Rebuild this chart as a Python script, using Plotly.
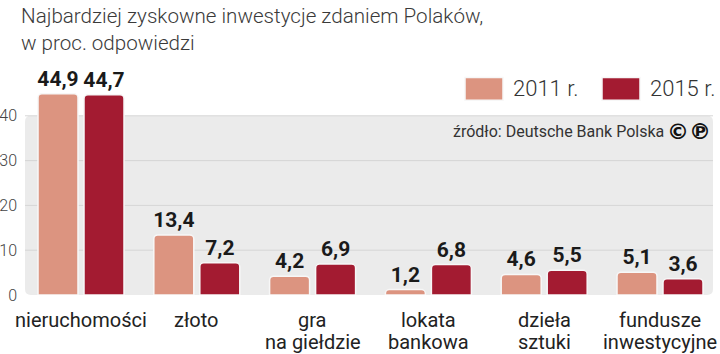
import plotly.graph_objects as go

categories = ["nieruchomości", "złoto", "gra<br>na giełdzie", "lokata<br>bankowa", "dzieła<br>sztuki", "fundusze<br>inwestycyjne"]
series_names = ["2011 r.", "2015 r."]
values_2011 = [44.9, 13.4, 4.2, 1.2, 4.6, 5.1]
values_2015 = [44.7, 7.2, 6.9, 6.8, 5.5, 3.6]
y_ticks = [0, 10, 20, 30, 40]
title_text = "Najbardziej zyskowne inwestycje zdaniem Polaków,<br>w proc. odpowiedzi"
source_text = "źródło: Deutsche Bank Polska"

colors = ["#dc9480", "#a31b31"]
W, H = 720, 354
ml, mr, mt, mb = 25, 7, 70.5, 58.5
pw = W - ml - mr
ph = H - mt - mb

def px(xp):
    return (xp - ml) / pw

def py(yp):
    return (H - mb - yp) / ph

label_font = dict(family="Roboto", size=21, color="#1a1a1a", weight="bold")

def fmt(v):
    return f"{v:.1f}".replace(".", ",")

fig = go.Figure()
for name, vals, col in zip(series_names, [values_2011, values_2015], colors):
    fig.add_trace(go.Bar(
        x=list(range(len(categories))), y=vals, name=name,
        marker=dict(color=col, line=dict(color="#f7f7f7", width=1.5), cornerradius=4),
        text=[fmt(v) for v in vals], textposition="outside", constraintext="none",
        textfont=label_font, cliponaxis=False, showlegend=False,
    ))

ymax = 50.0
x0, x1 = 0.0, 1.0
y0, y1 = 0.0, 40 / ymax
rx = 6 / pw
ry = 6 / ph
path = (f"M {x0+rx},{y0} L {x1-rx},{y0} Q {x1},{y0} {x1},{y0+ry} L {x1},{y1-ry} Q {x1},{y1} {x1-rx},{y1} "
        f"L {x0+rx},{y1} Q {x0},{y1} {x0},{y1-ry} L {x0},{y0+ry} Q {x0},{y0} {x0+rx},{y0} Z")
shapes = [dict(type="path", path=path, xref="paper", yref="paper", fillcolor="#ebebeb",
               line=dict(width=0), layer="below")]
for t in y_ticks[1:]:
    shapes.append(dict(type="line", xref="paper", yref="y", x0=0, x1=1, y0=t, y1=t,
                       line=dict(color="#d6d6d6", width=1), layer="below"))

annotations = [
    dict(text=title_text, x=px(19), y=py(1), xref="paper", yref="paper", xanchor="left", yanchor="top",
         showarrow=False, align="left", font=dict(family="Roboto", size=20.6, color="#3a3a3a", weight=300)),
]

# category labels, one annotation per text line (controlled line spacing)
for i, cat in enumerate(categories):
    for j, line in enumerate(cat.split("<br>")):
        annotations.append(dict(text=line, x=i, y=0, xref="x", yref="y",
                                xanchor="center", yanchor="middle", showarrow=False,
                                yshift=-(320 + 22 * j - (H - mb)),
                                font=dict(family="Roboto", size=20, color="#222222")))

leg_x = [465, 602]
for i, (name, col) in enumerate(zip(series_names, colors)):
    bx = leg_x[i]
    shapes.append(dict(type="rect", xref="paper", yref="paper",
                       x0=px(bx), x1=px(bx + 38), y0=py(100), y1=py(77),
                       fillcolor=col, line=dict(color="#f7f7f7", width=1.5)))
    annotations.append(dict(text=name, xref="paper", yref="paper",
                            x=px(bx + 46), y=py(88.5),
                            xanchor="left", yanchor="middle", showarrow=False,
                            font=dict(family="Roboto", size=22, color="#333333", weight=300)))

annotations.append(dict(text=source_text, xref="paper", yref="paper",
                        x=px(666), y=py(131), xanchor="right", yanchor="middle",
                        showarrow=False, font=dict(family="Roboto", size=16, color="#333333")))
annotations.append(dict(text="©℗", xref="paper", yref="paper",
                        x=px(713), y=py(131), xanchor="right", yanchor="middle",
                        showarrow=False, font=dict(family="DejaVu Sans", size=22, color="#111111", weight="bold")))

step = 115.8
fig.update_layout(
    width=W, height=H, margin=dict(l=ml, r=mr, t=mt, b=mb, pad=0, autoexpand=False),
    paper_bgcolor="white", plot_bgcolor="rgba(0,0,0,0)",
    barmode="group", bargap=0.2055, bargroupgap=0.1304,
    shapes=shapes, annotations=annotations,
    xaxis=dict(range=[-(81 - ml) / step, (W - mr - 81) / step], tickmode="array",
               tickvals=list(range(len(categories))), showticklabels=False,
               showgrid=False, zeroline=False, showline=False, ticks="", automargin=False),
    yaxis=dict(range=[0, ymax], tickmode="array", tickvals=y_ticks,
               showgrid=False, zeroline=False, showline=False, ticks="",
               ticklabelstandoff=7, automargin=False,
               tickfont=dict(family="Roboto", size=16, color="#444444", weight=300)),
    font=dict(family="Roboto"),
)

fig.write_html("out.html")
